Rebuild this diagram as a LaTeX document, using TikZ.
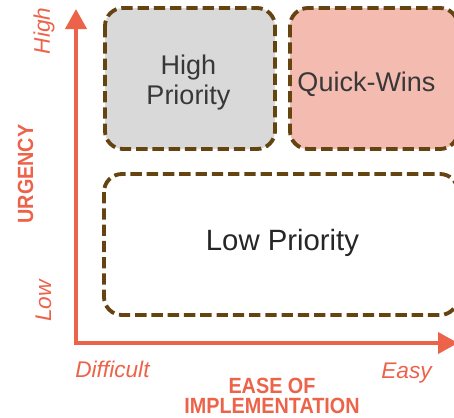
\documentclass[tikz,border=0pt]{standalone}
\usepackage{fontspec}
\setmainfont{Liberation Sans}
\newfontfamily\axisfont[FakeStretch=0.9]{Liberation Sans}
\usetikzlibrary{arrows.meta}

\definecolor{axisorange}{RGB}{236,99,74}
\definecolor{quadbrown}{RGB}{102,68,17}
\definecolor{quadgray}{RGB}{217,217,217}
\definecolor{quadpink}{RGB}{244,187,176}
\definecolor{quadtext}{RGB}{56,56,56}

\begin{document}
\begin{tikzpicture}[x=0.75pt,y=0.75pt,yscale=-1,xscale=1,
  quad/.style={draw=quadbrown, line width=2.9pt, dash pattern=on 8.5pt off 3.7pt, rounded corners=13.5pt},
  axisline/.style={draw=axisorange, line width=3pt},
  ticklabel/.style={text=axisorange, inner sep=0pt, font=\fontsize{17}{20}\selectfont\itshape},
  axislabel/.style={text=axisorange, inner sep=0pt, align=center, font=\axisfont\bfseries\fontsize{16.5}{15}\selectfont},
  quadlabel/.style={text=quadtext, inner sep=0pt, align=center, font=\fontsize{20.25}{22.5}\selectfont}]
\useasboundingbox (0,0) rectangle (454,418);
\clip (0,0) rectangle (454,418);

%Rounded Rect [id:hp]
\draw [quad, fill=quadgray] (105,8) rectangle (275,149) ;
%Rounded Rect [id:qw]
\draw [quad, fill=quadpink] (290,8) rectangle (458,149) ;
%Rounded Rect [id:lp]
\draw [quad, fill=white] (104,174) rectangle (458,315) ;

%Axes
\coordinate (origin) at (76,343) ;
\coordinate (ytip) at (76,9) ;
\coordinate (xtip) at (458,343) ;
\draw [axisline, {Triangle[length=15pt,width=15.75pt]}-{Triangle[length=15pt,width=15.75pt]}] (ytip) -- (origin) -- (xtip) ;

% Text Node
\node [quadlabel] (highprio) at (188.5,83) {High\\Priority};
% Text Node
\node [quadlabel, anchor=base] (quickwins) at (366.5,91) {Quick-Wins};
% Text Node
\node [quadlabel, anchor=base, text=black!85, font=\fontsize{22}{26}\selectfont] (lowprio) at (282.5,250) {Low Priority};

% Text Node
\node [ticklabel, anchor=base, rotate=90] (high) at (50,31) {High};
% Text Node
\node [ticklabel, anchor=base, rotate=90] (low) at (51,301) {Low};
% Text Node
\node [ticklabel, anchor=base west] (difficult) at (75,377) {Difficult};
% Text Node
\node [ticklabel, anchor=base east] (easy) at (432,378) {Easy};

% Text Node
\node [axislabel, anchor=base, rotate=90] (urgency) at (33,174) {URGENCY};
% Text Node
\node [axislabel, anchor=north] (ease) at (272,378) {EASE OF\\IMPLEMENTATION};

\end{tikzpicture}
\end{document}
